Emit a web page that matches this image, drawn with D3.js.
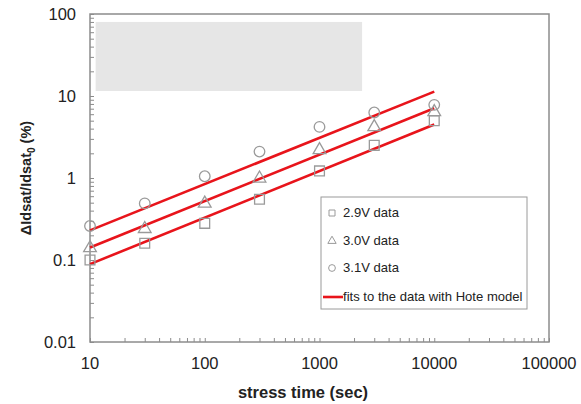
<!DOCTYPE html>
<html>
<head>
<meta charset="utf-8">
<script src="https://cdn.jsdelivr.net/npm/d3@7"></script>
<style>
body { margin: 0; background: #fff; }
svg { display: block; font-family: Arial, "Liberation Sans", sans-serif; }
</style>
</head>
<body>
<div id="container"><svg></svg></div>
<script>
let width = 581;
let height = 404;

// stress time (sec)
let times = [10, 30, 100, 300, 1000, 3000, 10000];
// delta Idsat / Idsat0 (%)
let v29 = [0.10, 0.16, 0.28, 0.55, 1.22, 2.5, 5.0];
let v30 = [0.14, 0.24, 0.49, 0.99, 2.2, 4.2, 6.4];
let v31 = [0.26, 0.49, 1.05, 2.1, 4.2, 6.3, 7.8];

// fitted lines (Hote model), end points
let fitTimes = [10, 10000];
let fit29 = [0.089, 4.5];
let fit30 = [0.142, 7.1];
let fit31 = [0.23, 11.3];

let xTicks = [10, 100, 1000, 10000, 100000];
let yTicks = [0.01, 0.1, 1, 10, 100];

let legendLabels = ["2.9V data", "3.0V data", "3.1V data", "fits to the data with Hote model"];

let margin = {left: 90, right: 32, top: 14, bottom: 62};

let svg = d3.select('#container').select('svg')
    .attr('width', width)
    .attr('height', height);

let x = d3.scaleLog().domain([10, 100000]).range([margin.left, width - margin.right]);
let y = d3.scaleLog().domain([0.01, 100]).range([height - margin.bottom, margin.top]);

let axisColor = "#8c8c8c";
let markColor = "#9a9a9a";
let red = "#e8141b";

// gray box in the upper-left
svg.append("rect")
    .attr("x", x(11.2)).attr("y", y(80))
    .attr("width", x(2350) - x(11.2))
    .attr("height", y(11.5) - y(80))
    .attr("fill", "#e6e6e6");

// frame
svg.append("rect")
    .attr("x", x(10)).attr("y", y(100))
    .attr("width", x(100000) - x(10))
    .attr("height", y(0.01) - y(100))
    .attr("fill", "none")
    .attr("stroke", axisColor)
    .attr("stroke-width", 1.5);

// minor/major ticks, pointing inward
function logTicks(lo, hi) {
    let t = [];
    for (let d = lo; d < hi; d = d * 10) {
        for (let k = 1; k < 10; k++) t.push(d * k);
    }
    t.push(hi);
    return t;
}

let xAxis = d3.axisTop(x)
    .tickValues(logTicks(10, 100000))
    .tickSize(4)
    .tickFormat("");
let gx = svg.append("g")
    .attr("transform", `translate(0,${y(0.01)})`)
    .call(xAxis);
gx.select(".domain").remove();
gx.selectAll("line").attr("stroke", axisColor).attr("stroke-width", 1);

let yAxis = d3.axisRight(y)
    .tickValues(logTicks(0.01, 100))
    .tickSize(4)
    .tickFormat("");
let gy = svg.append("g")
    .attr("transform", `translate(${x(10)},0)`)
    .call(yAxis);
gy.select(".domain").remove();
gy.selectAll("line").attr("stroke", axisColor).attr("stroke-width", 1);

// tick labels
svg.append("g").selectAll("text")
    .data(xTicks)
    .join("text")
    .attr("x", d => x(d))
    .attr("y", y(0.01) + 27)
    .attr("text-anchor", "middle")
    .attr("font-size", 16.5)
    .attr("fill", "#222")
    .text(d => d);

svg.append("g").selectAll("text")
    .data(yTicks)
    .join("text")
    .attr("x", x(10) - 14)
    .attr("y", d => y(d) + 6)
    .attr("text-anchor", "end")
    .attr("font-size", 16.5)
    .attr("fill", "#222")
    .text(d => d);

// axis titles
svg.append("text")
    .attr("x", 303)
    .attr("y", 398)
    .attr("text-anchor", "middle")
    .attr("font-size", 16.5)
    .attr("font-weight", "bold")
    .attr("fill", "#222")
    .text("stress time (sec)");

let yt = svg.append("text")
    .attr("transform", `translate(31,${(y(0.01) + y(100)) / 2}) rotate(-90)`)
    .attr("text-anchor", "middle")
    .attr("font-size", 14.5)
    .attr("font-weight", "bold")
    .attr("fill", "#222");
yt.append("tspan").text("\u0394Idsat/Idsat");
yt.append("tspan").attr("font-size", 10).attr("dy", 4).text("0");
yt.append("tspan").attr("dy", -4).text(" (%)");

// fit lines
let line = d3.line()
    .x(d => x(d[0]))
    .y(d => y(d[1]));

[fit29, fit30, fit31].forEach(f => {
    svg.append("path")
        .datum(fitTimes.map((t, i) => [t, f[i]]))
        .attr("d", line)
        .attr("fill", "none")
        .attr("stroke", red)
        .attr("stroke-width", 2.6);
});

// data markers
let sq = d3.symbol().type(d3.symbolSquare).size(96);
let tri = d3.symbol().type(d3.symbolTriangle).size(70);
let circ = d3.symbol().type(d3.symbolCircle).size(88);

function drawSeries(vals, sym) {
    svg.append("g").selectAll("path")
        .data(times.map((t, i) => [t, vals[i]]))
        .join("path")
        .attr("d", sym)
        .attr("transform", d => `translate(${x(d[0])},${y(d[1])})`)
        .attr("fill", "none")
        .attr("stroke", markColor)
        .attr("stroke-width", 1.3);
}
drawSeries(v29, sq);
drawSeries(v30, tri);
drawSeries(v31, circ);

// legend
let lg = svg.append("g").attr("transform", "translate(321,197)");
lg.append("rect")
    .attr("width", 206).attr("height", 112)
    .attr("fill", "#fff")
    .attr("stroke", "#9a9a9a")
    .attr("stroke-width", 1);

let legSyms = [
    d3.symbol().type(d3.symbolSquare).size(36),
    d3.symbol().type(d3.symbolTriangle).size(30),
    d3.symbol().type(d3.symbolCircle).size(36)
];
let rowY = [16, 44, 71, 100];
legSyms.forEach((s, i) => {
    lg.append("path")
        .attr("d", s)
        .attr("transform", `translate(11,${rowY[i]})`)
        .attr("fill", "none")
        .attr("stroke", markColor)
        .attr("stroke-width", 1);
});
lg.append("line")
    .attr("x1", 2).attr("x2", 22)
    .attr("y1", rowY[3]).attr("y2", rowY[3])
    .attr("stroke", red)
    .attr("stroke-width", 2.6);
// text in the picture is a bit wider than plain Arial
lg.selectAll("text.leg")
    .data(legendLabels)
    .join("text")
    .attr("class", "leg")
    .attr("transform", (d, i) => `translate(22,${rowY[i] + 4}) scale(1.09,1)`)
    .attr("font-size", 12)
    .attr("fill", "#222")
    .text(d => d);
</script>
</body>
</html>
